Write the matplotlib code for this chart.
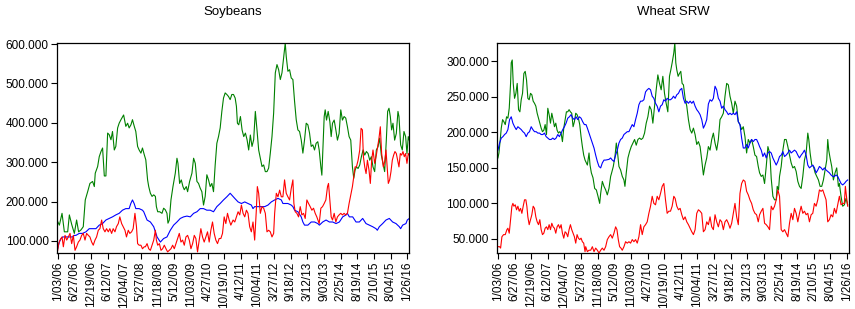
import matplotlib
matplotlib.use("Agg")
import matplotlib.pyplot as plt

plt.rcParams['font.family'] = ['Liberation Sans', 'DejaVu Sans']

# x axis: weekly observations, week 0 = 1/03/06
date_labels = ["1/03/06", "6/27/06", "12/19/06", "6/12/07", "12/04/07", "5/27/08",
               "11/18/08", "5/12/09", "11/03/09", "4/27/10", "10/19/10", "4/12/11",
               "10/04/11", "3/27/12", "9/18/12", "3/12/13", "9/03/13", "2/25/14",
               "8/19/14", "2/10/15", "8/04/15", "1/26/16"]
date_weeks = [25 * i for i in range(len(date_labels))]

# ---------------- Soybeans ----------------
soy_green_wk = [0, 2.5, 6.5, 10, 15, 17.5, 21, 25, 28.4, 31.4, 35, 38.4, 41.4, 45, 48.4, 52.4, 55, 56.4, 60, 62.4,
                65, 67.4, 70, 72.4, 75, 77.3, 80, 82.3, 85, 87.3, 90, 92.3, 95, 99, 102.3, 105, 107.3, 110, 112.3, 115,
                117.3, 120, 122.3, 125, 127.3, 130, 132.3, 135,
                136.7, 139.2, 141.7, 144.2, 146.7, 148.2, 150.2, 153.2, 156.6, 159.1, 161.6, 164.1, 165.6, 167.6, 170.1,
                173.1, 176.6, 179.1, 180.6, 183.1, 185.6, 188.1, 190.1, 193.1, 195.1, 198.1, 201.6, 204.1, 206.6, 209.1,
                211.5, 214, 216.5, 219, 221.5, 224, 226.5, 229, 231.5, 234, 236.5, 239, 241.5, 244, 246.5, 249, 251.5,
                254, 256.5, 259, 261.5, 264, 266.5,
                268.4, 269.9, 271.9, 274.4, 276.9, 279.4, 281.9, 284.4, 286.8, 289.3, 291.8, 294.3, 296.8, 299.3, 301.8,
                304.3, 306.8, 309.3, 311.8, 314.3, 316.8, 319.3, 321.8, 324.3, 326.8, 329.3, 331.8, 334.3, 336.8, 339.2,
                341.7, 343.2, 345.7, 348.2, 350.7, 353.2, 355.7, 358.2, 360.7, 363.2, 365.7, 368.2, 370.7, 373.2, 375.7,
                378.2, 380.7, 383.2, 385.7, 388.1, 390.6,
                392.7, 395.2, 396.7, 398.7, 400.2, 401.7, 403.7, 406.2, 408.7, 410.7, 412.7, 415.2, 417.7, 420.1, 422.6,
                425.1, 427.6, 430.1, 432.6, 435.1, 437.6, 440.1, 442.6, 444.6, 446.6, 448.6, 451.1, 453.6, 456.1, 458.6,
                461.1, 463.6, 466.1, 468.6, 471.0, 473.5, 476.0, 478.5, 481.0, 483.5, 486.0, 488.5, 491.0, 493.5, 495.5,
                497.5, 499.5, 501.5, 503.5, 506.0, 508.5, 511.0, 512.5, 515.0, 517.5, 520.0, 522.5, 524.5, 526.5, 528.0]
soy_green = [149, 140, 170, 123, 123, 166, 142, 119, 153, 123, 128, 136, 204, 225, 246, 251, 238, 272, 289, 314,
             327, 336, 265, 265, 374, 370, 357, 378, 331, 340, 387, 399, 408, 420, 391, 399, 387, 395, 408, 391,
             378, 340, 331, 323, 336, 319, 306, 255,
             238, 221, 213, 217, 213, 187, 174, 174, 170, 183, 179, 170, 145, 153, 204, 238, 272, 310, 297, 246,
             255, 238, 230, 238, 225, 251, 272, 310, 297, 251, 246, 234, 225, 191, 213, 268, 255, 238, 246, 225,
             293, 348, 365, 387, 429, 463, 476, 472, 467, 459, 472, 472, 463,
             442, 399, 395, 416, 382, 365, 374, 357, 331, 369, 340, 357, 429, 382, 331, 310, 289, 293, 276, 276,
             285, 323, 365, 425, 527, 548, 535, 510, 527, 565, 603, 569, 531, 535, 514, 510, 455, 408, 382, 378,
             357, 323, 357, 399, 395, 374, 340, 344, 331, 348, 352,
             331, 288, 267, 356, 416, 433, 407, 429, 403, 365, 399, 407, 382, 356, 373, 433, 407, 416, 412, 390,
             365, 356, 288, 259, 280, 288, 284, 293, 314, 331, 318, 327, 322, 305, 314, 288, 276, 331, 339, 361,
             318, 297, 276, 356, 429, 437, 416, 382, 399, 356, 373, 429, 416, 344, 331, 378, 365, 322, 365, 356]

soy_red_wk = [0, 1.5, 3.5, 6.5, 8.5, 11, 13.5, 16, 18.5, 21, 23.5, 26, 28.4, 31, 33.4, 36, 38.4, 41, 43.4, 46,
              48.4, 51, 53.4, 56, 58.4, 61, 63.4, 66, 68.4, 71, 73.4, 76, 78.3, 81, 83.3, 86, 88.3, 91, 93.3, 96,
              98.3, 101, 103.3, 106, 108.3, 111, 113.3, 116, 118.3, 120, 122.3, 125, 127.3, 130,
              131.7, 134.2, 136.7, 139.2, 141.7, 144.2, 146.7, 148.2, 150.2, 152.7, 155.1, 157.6, 160.1, 162.6, 165.1,
              167.6, 170.1, 172.6, 175.1, 177.6, 180.1, 182.6, 185.1, 187.6, 190.1, 192.6, 195.1, 197.6, 200.1, 202.6,
              205.1, 207.5, 210, 212.5, 215, 217.5, 220, 222.5, 225, 227.5, 230, 232.5, 235, 237.5, 240, 242.5,
              245, 247.5, 250, 252.5, 255, 257.5, 260,
              263.4, 265.9, 268.4, 270.9, 273.4, 275.9, 278.4, 280.9, 283.4, 285.8, 288.3, 290.8, 293.3, 295.8, 298.3,
              299.8, 301.8, 304.3, 306.8, 309.3, 311.8, 314.3, 316.8, 319.3, 321.8, 324.3, 325.8, 328.3, 330.8, 333.3,
              335.8, 338.2, 340.7, 343.2, 345.7, 348.2, 350.7, 353.2, 354.7, 356.7, 359.2, 361.7, 364.2, 366.7, 369.2,
              371.7, 374.2, 376.7, 379.2, 381.7, 384.2, 386.7, 389.1,
              392.7, 395.2, 397.7, 400.2, 402.7, 405.2, 406.7, 408.7, 410.7, 412.7, 415.2, 417.7, 420.1, 422.6, 425.1,
              427.6, 430.1, 432.6, 435.1, 437.6, 440.1, 442.6, 444.6, 446.6, 448.6, 451.1, 453.6, 455.6, 457.6, 459.1,
              461.1, 463.1, 465.1, 467.5, 469.5, 471.5, 473.5, 476.0, 478.5, 480.5, 482.5, 484.5, 486.5, 489.0, 491.0,
              493.0, 495.0, 496.5, 498.5, 500.5, 502.5, 504.5, 506.5, 508.5, 510.5, 512.5, 514.5, 516.5, 518.5, 520.5,
              522.5, 524.5, 526.5, 528]
soy_red = [76, 93, 102, 110, 85, 114, 102, 110, 119, 93, 114, 76, 85, 97, 102, 114, 119, 102, 119, 114,
           110, 97, 89, 102, 110, 127, 131, 153, 131, 123, 131, 123, 131, 119, 131, 123, 136, 144, 161, 144,
           136, 127, 110, 127, 119, 123, 131, 170, 136, 93, 89, 89, 80, 85,
           85, 93, 80, 76, 89, 102, 127, 102, 89, 93, 76, 80, 89, 80, 72, 76, 80, 89, 80, 93,
           106, 119, 97, 102, 89, 110, 114, 102, 80, 93, 114, 106, 72, 102, 131, 110, 97, 110, 123, 97,
           127, 148, 119, 102, 93, 106, 106, 119, 161, 144, 170, 153, 140,
           153, 148, 161, 174, 166, 191, 170, 161, 178, 170, 136, 123, 148, 102, 178, 238, 221, 170, 187, 183,
           170, 123, 127, 123, 110, 119, 170, 221, 212, 229, 212, 212, 255, 221, 212, 204, 233, 255, 195, 174,
           170, 161, 187, 166, 170, 157, 204, 195, 187, 178, 183, 170, 161,
           144, 183, 187, 195, 204, 238, 246, 204, 161, 153, 170, 148, 161, 166, 170, 166, 170, 166, 170, 195,
           216, 238, 263, 288, 288, 305, 331, 386, 382, 314, 288, 271, 305, 280, 246, 305, 331, 297, 318, 339,
           361, 390, 322, 288, 301, 331, 280, 246, 255, 276, 305, 318, 327, 322, 305, 288, 322, 318, 327, 314,
           322, 297, 322, 318]

soy_blue_wk = [0, 2.5, 5, 7.5, 12.5, 17.5, 22.5, 25, 27.4, 32.4, 37.4, 42.4, 47.4, 52.4, 57.4, 62.4, 67.4, 72.4,
               77.3, 82.3, 87.3, 92.3, 97.3, 102.3, 107.3, 109.8, 112.3, 114.8, 117.3, 122.3, 127.3,
               129.2, 134.2, 139.2, 144.2, 149.2, 154.2, 159.1, 164.1, 169.1, 174.1, 179.1, 184.1, 189.1, 194.1,
               199.1, 204.1, 209.1, 214, 219, 224, 229, 234, 239, 244, 249, 254, 259,
               265.9, 270.9, 275.9, 280.9, 285.8, 290.8, 293.3, 295.8, 300.8, 305.8, 310.8, 315.8, 320.8, 325.8,
               330.8, 335.8, 338.2, 340.7, 345.7, 350.7, 353.2, 355.7, 360.7, 365.7, 368.2, 370.7, 375.7, 380.7,
               385.7, 390.6,
               393, 398, 403, 408, 413, 418, 423, 428, 433, 435, 438, 443, 448, 453, 458, 463, 468, 473, 478, 480,
               483, 488, 493, 498, 503, 508, 513, 515, 518, 523, 525, 528]
soy_blue = [80, 97, 106, 110, 110, 110, 110, 114, 114, 119, 119, 123, 131, 131, 131, 140, 144, 153,
            157, 161, 166, 170, 178, 182, 182, 195, 204, 195, 182, 182, 178,
            174, 153, 148, 136, 110, 97, 106, 110, 127, 140, 148, 157, 161, 163,
            161, 170, 174, 182, 182, 178, 178, 174, 187, 195, 204, 212, 221,
            208, 199, 195, 199, 195, 191, 182, 187, 187, 187, 187, 191, 199, 204,
            208, 204, 195, 195, 195, 191, 187, 178, 174, 161, 148, 140, 140, 148,
            148, 144,
            140, 148, 153, 148, 148, 144, 148, 161, 166, 170, 161, 161, 148, 148, 157, 144, 140, 136, 131, 127,
            136, 144, 153, 157, 148, 144, 136, 131, 140, 144, 153, 157]

# ---------------- Wheat SRW ----------------
wheat_green_wk = [0, 1.5, 3.5, 5, 7, 9, 11, 13, 15, 17, 19, 20, 21.5, 23, 25, 27, 29, 31, 33, 35,
                  37, 39, 41, 43, 45, 47, 49, 51, 53, 55, 57, 59, 61, 63, 65, 67, 69, 71, 73, 75,
                  77, 79, 81, 83, 85, 87, 89, 91, 93, 95, 97, 99, 101, 103, 105, 107, 109, 111, 113, 115,
                  117, 119, 121, 123, 125, 127, 129, 131,
                  134.5, 137, 138.5, 140.5, 143, 145.5, 148, 150.5, 153, 154.5, 157, 159.5, 162, 164.5, 167, 169.5,
                  171, 173.5, 176, 178, 179.5, 182, 184.5, 187, 189.5, 191, 193, 195.5, 198, 200.5, 203, 205.5,
                  208, 210.5, 213, 215.5, 218, 220.5, 223, 225.5, 228, 230.5, 233, 235.5, 238, 240.5, 243, 245.5,
                  248, 250.5, 253, 255.5, 258, 260, 262, 264.5,
                  266, 267.5, 269, 271, 273, 275, 277, 279, 281.5, 284, 286.5, 289, 291.5, 294, 296.5, 299, 301.5,
                  304, 306.5, 309, 311.5, 314, 316.5, 319, 321.5, 324, 326.5, 329, 331.5, 334, 336.5, 339, 341.5,
                  344, 346.5, 349, 351.5, 354, 356.5, 359, 361.5, 364, 366.5, 369, 371.5, 374, 376.5, 379, 381.5,
                  384, 386.5, 389, 391.5,
                  393.5, 396, 398.5, 401, 403.5, 406, 407.5, 409.5, 411, 413.5, 416, 418.5, 420, 422, 423.5, 426,
                  428.5, 431, 433.5, 436, 438.5, 441, 443.5, 446, 448.5, 451, 453.5, 456, 458.5, 461, 463.5, 466,
                  467.5, 469.5, 472, 474.5, 477, 479.5, 482, 484.5, 487, 489.5, 492, 494.5, 496, 497.5, 499.5, 502,
                  504.5, 507, 509.5, 512, 513.5, 516, 518.5, 521, 523.5, 526]
wheat_green = [164, 171, 190, 206, 218, 215, 211, 222, 220, 234, 269, 298, 302, 269, 248, 255, 269, 232, 229, 246,
               255, 283, 286, 274, 248, 246, 255, 253, 244, 241, 237, 227, 220, 213, 206, 201, 203, 211, 197, 234,
               225, 213, 227, 218, 208, 213, 203, 199, 201, 199, 187, 206, 218, 229, 229, 232, 229, 227, 208, 215,
               227, 225, 220, 211, 194, 180, 168, 161,
               154, 171, 154, 143, 136, 121, 119, 110, 100, 114, 131, 124, 119, 112, 121, 138,
               143, 152, 166, 185, 175, 152, 147, 138, 133, 124, 143, 164, 173, 180, 185, 190,
               182, 190, 192, 190, 192, 199, 213, 222, 237, 232, 213, 237, 260, 281, 269, 260,
               279, 255, 241, 229, 279, 288, 298, 312,
               326, 298, 288, 279, 283, 286, 269, 267, 248, 237, 218, 204, 199, 206, 197, 183, 187,
               180, 161, 140, 154, 164, 180, 175, 190, 199, 185, 175, 190, 218, 222, 227, 251,
               269, 267, 251, 241, 227, 244, 237, 215, 211, 204, 208, 194, 171, 190, 185, 190,
               180, 168, 166, 152,
               143, 138, 140, 128, 152, 180, 175, 161, 135, 110, 105, 105, 124, 119, 138, 152,
               175, 190, 190, 180, 168, 157, 150, 152, 145, 131, 124, 121, 138, 161, 171, 199,
               190, 171, 154, 152, 143, 138, 133, 124, 124, 133, 147, 161, 190, 175, 164, 152,
               133, 143, 150, 124, 128, 110, 96, 98, 107, 98]

wheat_blue_wk = [0, 2.5, 5, 7.5, 10, 12.5, 15, 17.5, 20, 22.5, 25, 27.5, 30, 32.5, 35, 37.5, 40, 42.5, 45, 47.5,
                 50, 52.5, 55, 57.5, 60, 62.5, 65, 67.5, 70, 72.5, 75, 77.5, 80, 82.5, 85, 87.5, 90, 92.5, 95, 97.5,
                 100, 102.5, 105, 107.5, 110, 112.5, 115, 117.5, 120, 122.5, 125, 127.5, 130, 132.5,
                 134.5, 137, 139.5, 142, 144.5, 147, 149.5, 152, 154.5, 157, 159.5, 162, 167, 169.5, 172, 174.5,
                 177, 179.5, 182, 184.5, 187, 189.5, 192, 194.5, 197, 199.5, 202, 204.5, 207, 209.5, 212, 214.5,
                 217, 219.5, 222, 224.5, 227, 229.5, 232, 234.5, 237, 239.5, 242, 244.5, 247, 249.5, 252, 254.5,
                 257, 259.5, 262,
                 264, 266.5, 269, 271.5, 274, 276.5, 279, 281.5, 284, 286.5, 289, 291.5, 294, 296.5, 299, 301.5,
                 304, 306.5, 309, 311.5, 314, 316.5, 319, 321.5, 324, 326.5, 329, 331.5, 334, 336.5, 339, 341.5,
                 344, 346.5, 349, 351.5, 354, 356.5, 359, 361.5, 364, 366.5, 369, 371.5, 374, 376.5, 379, 381.5,
                 384, 386.5, 389, 391.5,
                 393.5, 396, 398.5, 401, 403.5, 406, 408.5, 411, 413.5, 416, 418.5, 421, 423.5, 426, 428.5, 431,
                 433.5, 436, 438.5, 441, 443.5, 446, 448.5, 451, 453.5, 456, 458.5, 461, 463.5, 466, 468.5, 471,
                 473.5, 476, 478.5, 481, 483.5, 486, 488.5, 491, 493.5, 496, 498.5, 501, 503.5, 506, 508.5, 511,
                 513.5, 516, 518.5, 521, 523.5, 526]
wheat_blue = [175, 185, 192, 194, 197, 199, 204, 218, 222, 213, 208, 204, 208, 206, 204, 201, 199, 194, 199, 201,
              208, 204, 201, 201, 199, 199, 197, 197, 199, 194, 192, 190, 190, 192, 190, 192, 197, 194, 199, 204,
              208, 213, 220, 222, 225, 220, 218, 222, 218, 222, 220, 215, 211, 211,
              206, 199, 192, 185, 178, 168, 159, 152, 150, 157, 161, 161, 162, 164, 161, 159,
              168, 175, 185, 190, 192, 197, 199, 201, 201, 206, 211, 208, 218, 227, 239, 244,
              244, 246, 257, 260, 262, 260, 251, 248, 241, 237, 229, 237, 239, 246, 244, 248,
              246, 246, 248,
              251, 248, 253, 255, 260, 262, 248, 241, 244, 241, 244, 241, 244, 237, 232, 229,
              225, 218, 206, 211, 218, 240, 246, 244, 248, 265, 260, 248, 244, 234, 237, 232,
              229, 225, 227, 225, 227, 225, 229, 215, 211, 192, 178, 178, 183, 178, 185, 190,
              187, 190, 190, 185,
              180, 175, 166, 171, 164, 171, 173, 171, 164, 159, 154, 159, 166, 168, 173, 166,
              168, 171, 175, 171, 173, 175, 173, 168, 164, 168, 171, 175, 168, 154, 150, 152,
              154, 150, 143, 147, 152, 150, 147, 150, 147, 145, 143, 140, 138, 138, 140, 138,
              133, 128, 126, 128, 131, 133]

wheat_red_wk = [0, 2.5, 4, 6, 8.5, 11, 13.5, 15, 17, 19, 21, 22.5, 24, 26, 28, 30, 32, 34, 36, 38,
                40, 42, 43.5, 45, 47, 49, 51, 53, 55, 57, 59, 61, 63, 65, 67, 69, 71, 73, 75, 77,
                79, 81, 83, 85, 87, 89, 91, 93, 95, 97, 99, 101, 103, 105, 107, 109, 111, 113, 115, 117,
                119, 121, 123, 125, 127, 129, 131,
                132, 134.5, 137, 139.5, 142, 144.5, 147, 149.5, 152, 154.5, 157, 159.5, 162, 164.5, 167, 169.5,
                172, 174.5, 177, 179, 181, 183, 185, 187, 189.5, 192, 194.5, 197, 199.5, 202, 204.5, 207,
                209.5, 212, 214.5, 217, 219.5, 222, 224.5, 227, 229.5, 232, 234.5, 237, 239.5, 242, 244.5, 247,
                249.5, 252, 254.5, 257, 259.5, 262, 264.5,
                266.5, 269, 271.5, 274, 276.5, 279, 281.5, 284, 286.5, 289, 291.5, 294, 296.5, 299, 301.5, 304,
                306.5, 309, 311.5, 314, 316.5, 319, 321.5, 324, 326.5, 329, 331.5, 334, 336.5, 339, 341.5, 344,
                346.5, 349, 351.5, 354, 356.5, 359, 361.5, 364, 366.5, 369, 371.5, 374, 376.5, 379, 381.5, 384,
                386.5, 389, 391.5,
                393.5, 396, 398.5, 401, 403.5, 406, 408.5, 411, 413.5, 416, 418.5, 421, 423.5, 426, 428.5, 431,
                433.5, 436, 438.5, 441, 443.5, 446, 448.5, 451, 453.5, 456, 458.5, 461, 463.5, 466, 468.5, 471,
                473.5, 476, 478.5, 481, 483.5, 486, 488.5, 491, 493.5, 496, 498.5, 501, 503.5, 506, 508.5, 511,
                513.5, 516, 518.5, 521, 522.5, 524.5, 526]
wheat_red = [39, 39, 37, 53, 56, 56, 63, 65, 58, 77, 96, 100, 96, 98, 91, 96, 89, 93, 86, 96,
             105, 105, 96, 81, 70, 77, 84, 96, 93, 81, 74, 70, 77, 63, 56, 58, 65, 67, 63, 70,
             63, 72, 67, 65, 58, 67, 70, 65, 70, 58, 51, 60, 58, 53, 63, 70, 63, 58, 53, 44,
             56, 51, 49, 51, 46, 44, 32,
             39, 32, 34, 34, 39, 32, 37, 34, 30, 34, 37, 34, 39, 49, 53, 56,
             51, 58, 67, 63, 49, 39, 37, 34, 39, 46, 44, 46, 44, 49, 46, 49,
             44, 53, 70, 56, 67, 70, 74, 86, 96, 110, 100, 98, 110, 105, 114, 124,
             128, 105, 86, 89, 89, 96, 110,
             107, 96, 91, 93, 84, 77, 81, 74, 70, 65, 60, 56, 63, 86, 91, 89,
             86, 60, 63, 74, 70, 81, 67, 63, 84, 74, 67, 77, 74, 63, 74, 77,
             72, 65, 72, 86, 100, 81, 70, 114, 128, 133, 131, 117, 112, 105, 100, 91,
             86, 84, 74,
             84, 89, 93, 72, 70, 67, 63, 96, 91, 96, 105, 119, 110, 63, 60, 63,
             58, 53, 72, 86, 77, 93, 86, 74, 86, 96, 86, 89, 84, 86, 74, 84,
             86, 100, 96, 105, 119, 117, 119, 112, 105, 74, 77, 84, 81, 93, 86, 98,
             110, 98, 100, 100, 124, 107, 96]

GREEN = '#008000'
BLUE = '#0000ff'
RED = '#ff0000'


def draw_panel(ax, title, lines, yticks, ylim):
    for wk, val, col in lines:
        ax.plot(wk, val, color=col, lw=0.8, drawstyle='default')
    ax.set_xlim(-1, 528)
    ax.set_ylim(*ylim)
    ax.set_xticks(date_weeks)
    ax.set_xticklabels(date_labels, rotation=90, fontsize=8.5)
    ax.set_yticks(yticks)
    ax.set_yticklabels([f"{v:.3f}" for v in yticks], fontsize=8.5)
    ax.tick_params(direction='out', length=4, width=0.8, pad=2)
    for s in ax.spines.values():
        s.set_linewidth(0.9)
    ax.set_title(title, fontsize=9.5, pad=20)


fig = plt.figure(figsize=(8.55, 3.09), dpi=100)
ax1 = fig.add_axes([0.0667, 0.181, 0.412, 0.680])
ax2 = fig.add_axes([0.5816, 0.181, 0.4114, 0.680])

draw_panel(ax1, "Soybeans",
           [(soy_green_wk, soy_green, GREEN), (soy_blue_wk, soy_blue, BLUE), (soy_red_wk, soy_red, RED)],
           [100, 200, 300, 400, 500, 600], (69, 603))
draw_panel(ax2, "Wheat SRW",
           [(wheat_green_wk, wheat_green, GREEN), (wheat_blue_wk, wheat_blue, BLUE), (wheat_red_wk, wheat_red, RED)],
           [50, 100, 150, 200, 250, 300], (30, 326))

fig.savefig("out.png", dpi=100)
